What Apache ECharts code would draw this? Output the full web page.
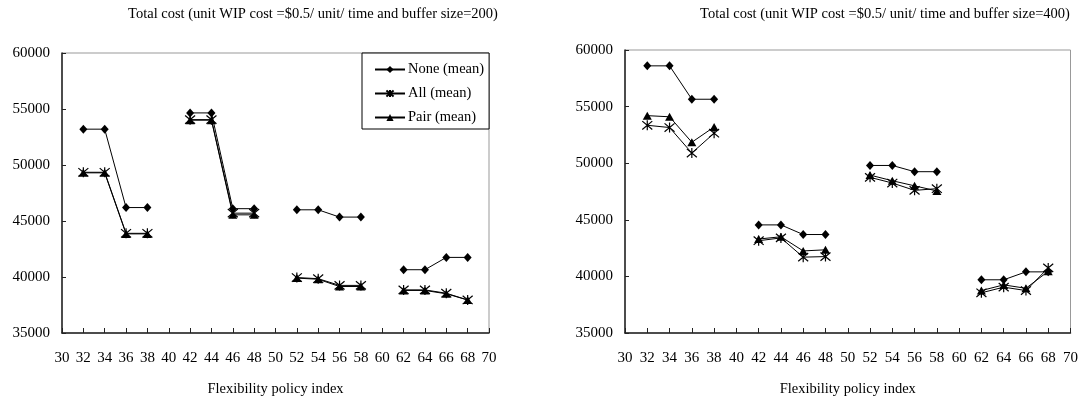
<!DOCTYPE html>
<html>
<head>
<meta charset="utf-8">
<script src="https://cdn.jsdelivr.net/npm/echarts@6/dist/echarts.min.js"></script>
<style>html,body{margin:0;padding:0;background:#fff;}#c{width:1081px;height:402px;}</style>
</head>
<body>
<div id="c"></div>
<script>
// Flexibility policy index (groups of four)
const policyIndex = [32,34,36,38, 42,44,46,48, 52,54,56,58, 62,64,66,68];
const groupSize = 4;
const xTicks = [30,32,34,36,38,40,42,44,46,48,50,52,54,56,58,60,62,64,66,68,70];
const yTicks = [35000,40000,45000,50000,55000,60000];
const seriesNames = ['None (mean)', 'All (mean)', 'Pair (mean)'];
const titles = [
  'Total cost (unit WIP cost =$0.5/ unit/ time and buffer size=200)',
  'Total cost (unit WIP cost =$0.5/ unit/ time and buffer size=400)'
];
const xAxisName = 'Flexibility policy index';

// buffer size = 200
const none200 = [53200,53200,46200,46200, 54650,54650,46100,46100, 46000,46000,45350,45350, 40650,40650,41750,41750];
const all200  = [49350,49350,43900,43900, 54050,54050,45700,45700, 39950,39850,39250,39250, 38850,38850,38550,37950];
const pair200 = [49300,49300,43850,43850, 54000,54000,45550,45550, 39900,39800,39150,39150, 38800,38800,38500,37950];

// buffer size = 400
const none400 = [58600,58600,55650,55650, 44550,44550,43700,43700, 49800,49800,49250,49250, 39700,39700,40400,40400];
const all400  = [53350,53150,50900,52650, 43150,43400,41700,41750, 48750,48250,47600,47750, 38550,39050,38750,40750];
const pair400 = [54200,54100,51850,53200, 43300,43500,42250,42350, 48950,48450,48000,47550, 38750,39250,38950,40450];

function build(vals) {
  const out = [];
  for (let i = 0; i < policyIndex.length; i++) {
    out.push([policyIndex[i], vals[i]]);
    if ((i + 1) % groupSize === 0 && i < policyIndex.length - 1) {
      out.push([policyIndex[i] + 2, '-']);
    }
  }
  return out;
}

const FONT = 'Liberation Serif';
const asterisk = 'path://M0,0 L10,10 M0,10 L10,0 M5,-1 L5,11';

const markerStyles = [
  {symbol: 'diamond', symbolSize: [8, 9], itemStyle: {color: '#000'}},
  {symbol: asterisk, symbolSize: 10, itemStyle: {color: 'rgba(0,0,0,0)', borderColor: '#000', borderWidth: 1.2}},
  {symbol: 'triangle', symbolSize: [9, 8], itemStyle: {color: '#000'}}
];

const grids = [
  {left: 62, top: 53, width: 427, height: 280},
  {left: 625, top: 50, width: 446, height: 283}
];

const chart = echarts.init(document.getElementById('c'));
const dataSets = [[none200, all200, pair200], [none400, all400, pair400]];

const series = [];
dataSets.forEach((sets, gi) => {
  sets.forEach((vals, si) => {
    series.push(Object.assign({
      name: seriesNames[si],
      type: 'line',
      xAxisIndex: gi,
      yAxisIndex: gi,
      data: build(vals),
      connectNulls: false,
      showAllSymbol: true,
      animation: false,
      lineStyle: {color: '#000', width: 1},
      emphasis: {disabled: true},
      z: 3 + si
    }, markerStyles[si]));
  });
});

chart.setOption({
  animation: false,
  backgroundColor: '#fff',
  title: [
    {text: titles[0], left: 308, top: 2, textAlign: 'center',
      textStyle: {fontFamily: FONT, fontSize: 14.5, fontWeight: 'normal', color: '#000'}},
    {text: titles[1], left: 880, top: 2, textAlign: 'center',
      textStyle: {fontFamily: FONT, fontSize: 14.5, fontWeight: 'normal', color: '#000'}}
  ],
  legend: {
    data: seriesNames,
    orient: 'vertical',
    left: 362,
    top: 53,
    itemWidth: 30,
    itemHeight: 9,
    itemGap: 9,
    padding: [9, 5, 4, 12],
    borderColor: '#000',
    borderWidth: 1,
    backgroundColor: '#fff',
    textStyle: {fontFamily: FONT, fontSize: 14.5, color: '#000', padding: [0, 0, 0, -2]}
  },
  grid: grids.map(g => Object.assign({show: true, borderColor: '#999', borderWidth: 1, backgroundColor: '#fff'}, g)),
  xAxis: [0, 1].map(i => ({
    type: 'value', gridIndex: i, min: 30, max: 70, interval: 2,
    name: xAxisName, nameLocation: 'middle', nameGap: 49,
    nameTextStyle: {fontFamily: FONT, fontSize: 14.5, color: '#000'},
    axisLine: {lineStyle: {color: '#222', width: 1.5}},
    axisTick: {inside: true, length: 5, lineStyle: {color: '#222'}},
    axisLabel: {fontFamily: FONT, fontSize: 15, color: '#000', margin: 18,
      formatter: v => xTicks.includes(v) ? String(v) : ''},
    splitLine: {show: false}
  })),
  yAxis: [0, 1].map(i => ({
    type: 'value', gridIndex: i, min: 35000, max: 60000, interval: 5000,
    axisLine: {show: true, lineStyle: {color: '#222', width: 1.5}},
    axisTick: {show: true, inside: true, length: 4, lineStyle: {color: '#222'}},
    axisLabel: {fontFamily: FONT, fontSize: 15, color: '#000', margin: 12,
      formatter: v => yTicks.includes(v) ? String(v) : ''},
    splitLine: {show: false}
  })),
  series: series
});
</script>
</body>
</html>
